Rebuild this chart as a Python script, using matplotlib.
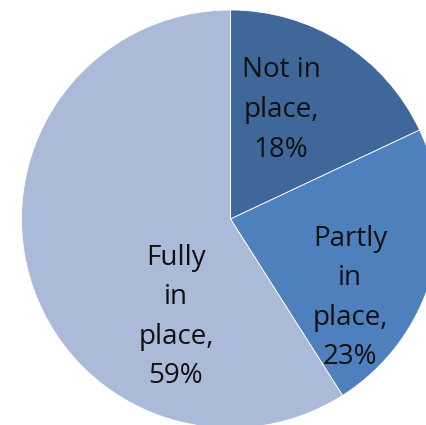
import matplotlib
matplotlib.use("Agg")
import matplotlib.pyplot as plt

categories = ["Not in\nplace,\n18%", "Partly\nin\nplace,\n23%", "Fully\nin\nplace,\n59%"]
values = [18, 23, 59]
colors = ["#3F679A", "#4E80BD", "#ABBAD8"]
label_pos = [(281, 315), (350, 127), (176, 108)]  # in pixel coords (y from bottom)

fig = plt.figure(figsize=(4.26, 4.25), dpi=100)
ax = fig.add_axes([0, 0, 1, 1])
ax.set_xlim(0, 426)
ax.set_ylim(0, 425)
ax.set_aspect("equal")
ax.axis("off")

wedges, _ = ax.pie(values, colors=colors, startangle=90, counterclock=False,
                   center=(230.5, 206), radius=209,
                   wedgeprops=dict(edgecolor="white", linewidth=0.6))
ax.set_xlim(0, 426)
ax.set_ylim(0, 425)

for lab, (x, y) in zip(categories, label_pos):
    ax.text(x, y, lab, ha="center", va="center", fontsize=20,
            family="Open Sans", linespacing=1.55, color="#111111")

fig.savefig("out.png", dpi=100)
